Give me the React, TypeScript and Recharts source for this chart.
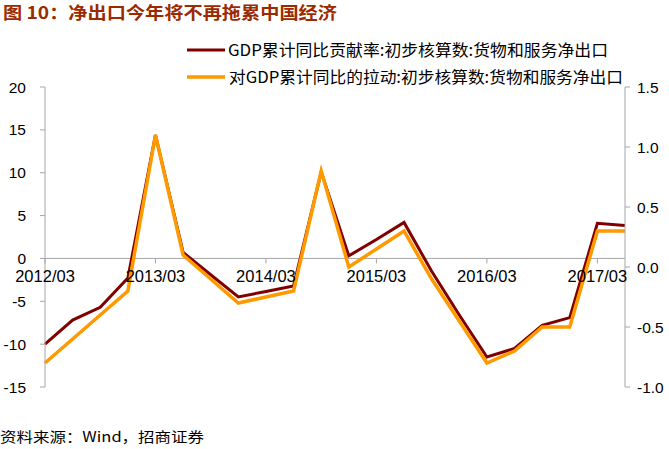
import React from 'react';
import { LineChart, Line, XAxis, YAxis, ReferenceLine } from 'recharts';

const categories = ['2012/03','2012/06','2012/09','2012/12','2013/03','2013/06','2013/09','2013/12','2014/03','2014/06','2014/09','2014/12','2015/03','2015/06','2015/09','2015/12','2016/03','2016/06','2016/09','2016/12','2017/03','2017/06'];
const contribution = [-10.0, -7.2, -5.7, -2.3, 14.4, 0.7, -1.9, -4.5, -3.85, -3.2, 10.1, 0.3, 2.2, 4.2, -1.5, -6.6, -11.5, -10.5, -7.8, -6.9, 4.1, 3.85];
const pull = [-0.8, -0.6, -0.4, -0.2, 1.1, 0.1, -0.1, -0.3, -0.25, -0.2, 0.8, 0.0, 0.15, 0.3, -0.1, -0.45, -0.8, -0.7, -0.5, -0.5, 0.3, 0.3];
const leftTicks = [-15, -10, -5, 0, 5, 10, 15, 20];
const rightTicks = [-1.0, -0.5, 0.0, 0.5, 1.0, 1.5];
const seriesNames = ['GDP累计同比贡献率:初步核算数:货物和服务净出口', '对GDP累计同比的拉动:初步核算数:货物和服务净出口'];
const title = '图 10：净出口今年将不再拖累中国经济';
const source = '资料来源：Wind，招商证券';

const data = categories.map((c, i) => ({ cat: c, a: contribution[i], b: pull[i] }));

const W = 669, H = 449;
const TOP = 87, BOTTOM = 387;
const LEFT_MIN = -15, LEFT_MAX = 20;
const zeroY = TOP + (BOTTOM - TOP) * (LEFT_MAX / (LEFT_MAX - LEFT_MIN));
const AXIS = '#A6A6A6';
const FONT = '"Liberation Sans", Arial, "Noto Sans CJK SC", sans-serif';
const C1 = '#800000';
const C2 = '#FF9900';

const XTick = (props: any) => {
  const { x, payload } = props;
  return (
    <g>
      <line x1={x} x2={x} y1={zeroY} y2={zeroY + 5} stroke={AXIS} />
      <text x={x} y={zeroY + 24} textAnchor="middle" fontSize={16.5} fill="#000" fontFamily={FONT}>{payload.value}</text>
    </g>
  );
};

export default function App() {
  return (
    <div style={{ position: 'absolute', left: 0, top: 0, width: W, height: H, background: '#fff' }}>
      <LineChart width={W} height={H} data={data} margin={{ top: TOP, right: 0, bottom: H - BOTTOM - 30, left: 0 }}>
        <XAxis dataKey="cat" height={30} interval={3} axisLine={false} tickLine={false} tick={<XTick />} />
        <YAxis yAxisId="left" domain={[LEFT_MIN, LEFT_MAX]} ticks={leftTicks} width={45} tickSize={5} tickMargin={14}
          axisLine={{ stroke: AXIS }} tickLine={{ stroke: AXIS }} tick={{ fill: '#000', fontSize: 15.5, fontFamily: FONT }} allowDataOverflow />
        <YAxis yAxisId="right" orientation="right" domain={[-1, 1.5]} ticks={rightTicks} width={44} tickSize={5} tickMargin={7}
          axisLine={{ stroke: AXIS }} tickLine={{ stroke: AXIS }} tick={{ fill: '#000', fontSize: 15.5, fontFamily: FONT }}
          tickFormatter={(v: number) => v.toFixed(1)} allowDataOverflow />
        <ReferenceLine yAxisId="left" y={0} stroke={AXIS} />
        <Line yAxisId="left" dataKey="a" stroke={C1} strokeWidth={3} dot={false} isAnimationActive={false} />
        <Line yAxisId="right" dataKey="b" stroke={C2} strokeWidth={3.5} dot={false} isAnimationActive={false} />
      </LineChart>
      <svg width={W} height={H} style={{ position: 'absolute', left: 0, top: 0, pointerEvents: 'none' }}>
        <text x={3} y={19} fontSize={17} fontWeight="bold" fill="#9C2A00" fontFamily={'"Noto Sans CJK SC", sans-serif'} textLength={334} lengthAdjust="spacingAndGlyphs">{title}</text>
        <line x1={187} x2={225} y1={50} y2={50} stroke={C1} strokeWidth={3} />
        <text x={228} y={56} fontSize={16} fill="#000" fontFamily={'"Noto Sans CJK SC", sans-serif'} textLength={380} lengthAdjust="spacingAndGlyphs">{seriesNames[0]}</text>
        <line x1={187} x2={225} y1={77} y2={77} stroke={C2} strokeWidth={3.5} />
        <text x={229} y={83} fontSize={16} fill="#000" fontFamily={'"Noto Sans CJK SC", sans-serif'} textLength={394} lengthAdjust="spacingAndGlyphs">{seriesNames[1]}</text>
        <text x={0} y={442} fontSize={14} fill="#000" fontFamily={'"Noto Sans CJK SC", sans-serif'} textLength={204} lengthAdjust="spacingAndGlyphs">{source}</text>
      </svg>
    </div>
  );
}
